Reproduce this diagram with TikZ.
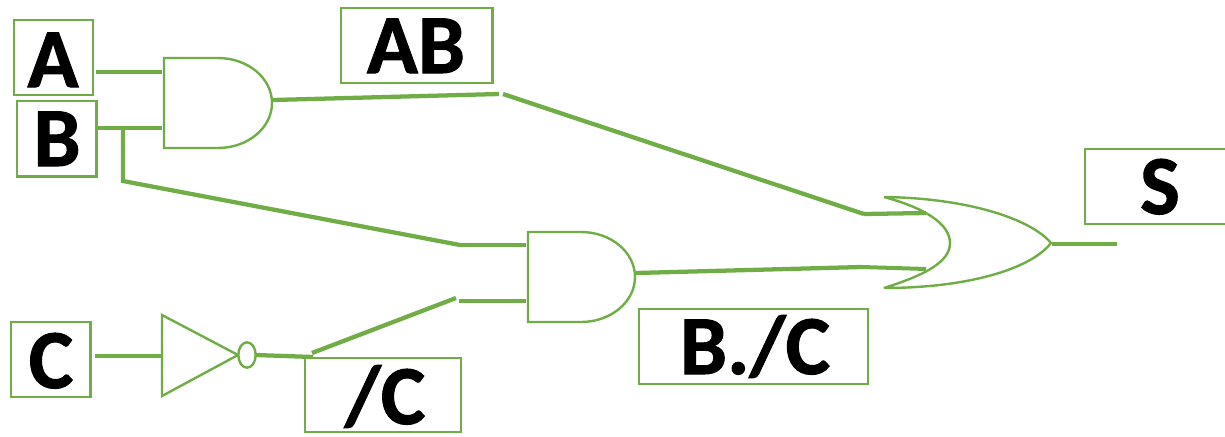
\documentclass[tikz,border=0pt]{standalone}
\usepackage{fontspec}
\usetikzlibrary{shapes.geometric}
\setmainfont[BoldFeatures={FakeBold=1.2}]{Carlito}
\definecolor{gatecol}{HTML}{70AD47}
\tikzset{
  boxnode/.style={draw=gatecol,line width=1.7pt,fill=white,inner sep=0pt,anchor=north west},
  labelnode/.style={inner sep=0pt,anchor=base,font=\fontsize{63}{63}\selectfont\bfseries,text=black},
  gateline/.style={draw=gatecol,line width=1.8pt,line join=miter},
  wire/.style={draw=gatecol,line width=3.2pt},
  thinwire/.style={draw=gatecol,line width=3pt}
}
\begin{document}
\begin{tikzpicture}[x=0.75pt,y=-0.75pt]
\useasboundingbox (0,0) rectangle (1225,436);
\fill[white] (0,0) rectangle (1225,436);
% boxes
\node[boxnode,minimum width=59pt,minimum height=56pt] (boxA) at (13,19) {};
\node[boxnode,minimum width=59.6pt,minimum height=56.6pt] (boxB) at (16,100) {};
\node[boxnode,minimum width=113.6pt,minimum height=56pt] (boxAB) at (340,7) {};
\node[boxnode,minimum width=111pt,minimum height=56pt] (boxS) at (1084,148) {};
\node[boxnode,minimum width=59.6pt,minimum height=56pt] (boxC) at (10,321) {};
\node[boxnode,minimum width=117pt,minimum height=55.3pt] (boxNC) at (304,357) {};
\node[boxnode,minimum width=171.4pt,minimum height=56pt] (boxBNC) at (638,308) {};
% labels
\node[labelnode] (tA) at (53,87) {A};
\node[labelnode] (tB) at (57,166) {B};
\node[labelnode] (tAB) at (416,73) {AB};
\node[labelnode] (tS) at (1160,214) {S};
\node[labelnode] (tC) at (51,388) {C};
\node[labelnode] (tNC) at (385,424) {/C};
\node[labelnode] (tBNC) at (755,374) {B./C};
% gates
\path[gateline] (164,58) -- (218,58) arc[start angle=-90,end angle=90,x radius=54,y radius=45] -- (164,148) -- cycle;
\path[gateline] (528,232) -- (581,232) arc[start angle=-90,end angle=90,x radius=54,y radius=45] -- (528,322) -- cycle;
\path[gateline,line join=bevel] (884,197) .. controls (965,198) and (1030,218) .. (1051,243)
  .. controls (1030,270) and (965,288) .. (884,288)
  .. controls (925,275) and (950,262) .. (950,243)
  .. controls (950,224) and (925,208) .. (884,197) -- cycle;
\path[gateline] (162,315) -- (238,355) -- (162,396) -- cycle;
\node[draw=gatecol,line width=1.8pt,ellipse,inner sep=0pt,minimum width=13pt,minimum height=19pt,fill=white] (bubble) at (247,355) {};
% named points
\coordinate (a1) at (162,72);
\coordinate (a2) at (162,128);
\coordinate (aO) at (273,100);
\coordinate (b1) at (526,245);
\coordinate (b2) at (526,301);
\coordinate (bO) at (636,273);
\coordinate (o1) at (926,213);
\coordinate (o2) at (926,269);
\coordinate (oO) at (1052,244);
\coordinate (oE) at (1117,244);
\coordinate (iI) at (162,356);
\coordinate (AE) at (96,72);
\coordinate (BE) at (96,128);
\coordinate (CE) at (95,356);
\coordinate (j1) at (123,128);
\coordinate (j2) at (123,181);
\coordinate (j3) at (460,245);
\coordinate (g1) at (499,94);
\coordinate (g2) at (503,94);
\coordinate (g3) at (864,214);
\coordinate (g4) at (862,267);
\coordinate (n1) at (256,355);
\coordinate (n2) at (313,357);
\coordinate (n3) at (312,353);
\coordinate (n4) at (456,298);
\coordinate (n5) at (459,301);
% wires
\path[thinwire] (AE) -- (a1);
\path[thinwire] (BE) -- (a2);
\path[wire] (j1) -- (j2) -- (j3);
\path[thinwire] (j3) -- (b1);
\path[wire] (aO) -- (g1);
\path[wire] (g2) -- (g3);
\path[wire] (g3) -- (o1);
\path[wire] (bO) -- (g4);
\path[thinwire] (g4) -- (o2);
\path[thinwire] (oO) -- (oE);
\path[thinwire] (CE) -- (iI);
\path[wire] (n1) -- (n2);
\path[wire] (n3) -- (n4);
\path[thinwire] (n5) -- (b2);
\end{tikzpicture}
\end{document}
